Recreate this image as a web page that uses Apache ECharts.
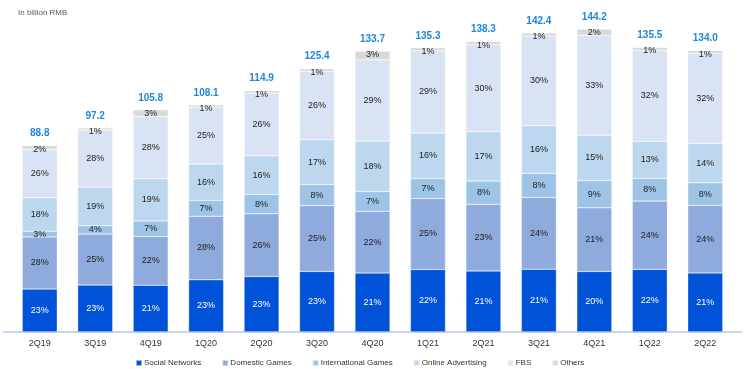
<!DOCTYPE html>
<html><head><meta charset="utf-8">
<script src="https://cdn.jsdelivr.net/npm/echarts@6/dist/echarts.min.js"></script>
<style>html,body{margin:0;padding:0;background:#fff}#c{width:750px;height:369px}</style>
</head><body><div id="c"></div>
<script>
const categories = ['2Q19','3Q19','4Q19','1Q20','2Q20','3Q20','4Q20','1Q21','2Q21','3Q21','4Q21','1Q22','2Q22'];
const totals = [88.8, 97.2, 105.8, 108.1, 114.9, 125.4, 133.7, 135.3, 138.3, 142.4, 144.2, 135.5, 134.0];
const socialPct =        [23, 23, 21, 23, 23, 23, 21, 22, 21, 21, 20, 22, 21];
const domesticPct =      [28, 25, 22, 28, 26, 25, 22, 25, 23, 24, 21, 24, 24];
const internationalPct = [3, 4, 7, 7, 8, 8, 7, 7, 8, 8, 9, 8, 8];
const adsPct =           [18, 19, 19, 16, 16, 17, 18, 16, 17, 16, 15, 13, 14];
const fbsPct =           [26, 28, 28, 25, 26, 26, 29, 29, 30, 30, 33, 32, 32];
const othersPct =        [2, 1, 3, 1, 1, 1, 3, 1, 1, 1, 2, 1, 1];
const seriesNames = ['Social Networks','Domestic Games','International Games','Online Advertising','FBS','Others'];
const colors = ['#0052D9','#8FAADC','#9DC3E6','#BDD7EE','#DAE3F3','#D9D9D9'];
const pcts = [socialPct, domesticPct, internationalPct, adsPct, fbsPct, othersPct];

const chart = echarts.init(document.getElementById('c'));
const series = pcts.map((p, si) => ({
  name: seriesNames[si],
  type: 'bar',
  stack: 'rev',
  barWidth: 35,
  itemStyle: { color: colors[si], borderColor: 'rgba(255,255,255,0.6)', borderWidth: 0.5 },
  data: p.map((v, i) => ({ value: totals[i] * v / 100, pct: v })),
  label: {
    show: true,
    position: si === 5 ? 'insideTop' : 'inside',
    offset: si === 5 ? [0, -6] : [0, 0],
    fontSize: 9,
    fontFamily: 'Liberation Sans, Arial, sans-serif',
    color: si === 0 ? '#ffffff' : '#222222',
    formatter: (p) => p.data.pct + '%'
  },
  emphasis: { disabled: true }
}));
// total labels
series.push({
  name: 'total',
  type: 'bar',
  stack: 'rev',
  barWidth: 35,
  itemStyle: { color: 'transparent' },
  data: totals.map(() => 0),
  label: {
    show: true, position: 'top', distance: 7,
    fontSize: 10, fontWeight: 'bold', color: '#1F87DB',
    fontFamily: 'Liberation Sans, Arial, sans-serif',
    formatter: (p) => totals[p.dataIndex].toFixed(1)
  },
  emphasis: { disabled: true },
  silent: true
});

chart.setOption({
  animation: false,
  backgroundColor: '#ffffff',
  grid: { left: 12, right: 17, top: 17, bottom: 37 },
  legend: {
    data: seriesNames,
    left: 130, top: 354,
    itemWidth: 6, itemHeight: 6, itemGap: 20,
    icon: 'rect',
    textStyle: { fontSize: 8, color: '#333', fontFamily: 'Liberation Sans, Arial, sans-serif', padding: [0,0,0,-3] }
  },
  title: {
    text: 'In billion RMB', left: 13, top: 4,
    textStyle: { fontSize: 8, fontWeight: 'normal', color: '#595959', fontFamily: 'Liberation Sans, Arial, sans-serif' }
  },
  xAxis: {
    type: 'category', data: categories,
    axisLine: { show: false },
    axisTick: { show: false },
    axisLabel: { fontSize: 9, color: '#333', margin: 7, fontFamily: 'Liberation Sans, Arial, sans-serif' }
  },
  yAxis: { type: 'value', min: 0, max: 150, show: false, splitLine: { show: false } },
  graphic: [{
    type: 'line', shape: { x1: 3, y1: 332, x2: 742, y2: 332 },
    style: { stroke: '#8FAADC', lineWidth: 1 }, z: 10
  }],
  series: series
});
</script></body></html>
